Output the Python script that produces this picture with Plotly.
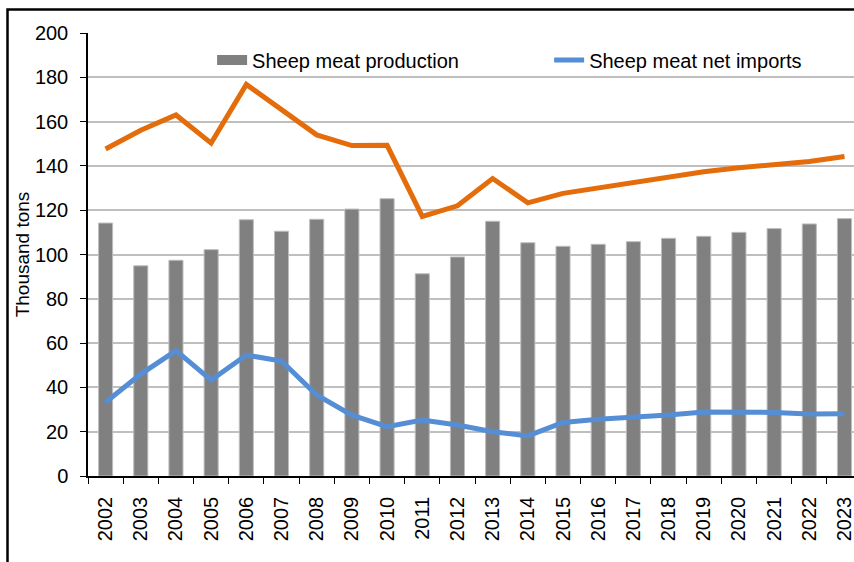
import plotly.graph_objects as go

years = [str(y) for y in range(2002, 2024)]
production = [114.2, 94.9, 97.4, 102.2, 115.7, 110.5, 115.9, 120.5, 125.2, 91.3, 98.9,
              115.0, 105.3, 103.7, 104.6, 105.8, 107.3, 108.2, 110.0, 111.7, 113.8, 116.2]
consumption = [147.6, 156.1, 163.0, 150.3, 176.8, 165.4, 154.0, 149.2, 149.3, 117.2, 122.0,
               134.3, 123.3, 127.6, 130.0, 132.3, 134.7, 137.4, 139.2, 140.7, 142.0, 144.2]
net_imports = [33.3, 46.0, 56.6, 43.3, 54.6, 51.9, 36.6, 27.5, 22.3, 25.3, 23.0,
               20.0, 18.1, 24.2, 25.6, 26.5, 27.5, 28.9, 29.0, 28.7, 28.0, 28.1]

FONT = "Liberation Sans, Arial, sans-serif"
GRAY = "#808080"
ORANGE = "#E46C0A"
BLUE = "#558ED5"

fig = go.Figure()
fig.add_trace(go.Bar(
    x=years, y=production, name="Sheep meat production", width=0.4,
    marker=dict(color=GRAY, line=dict(color="#BDBDBD", width=1)),
    showlegend=False,
))
# legend stand-in so the swatch is a wide bar like the original
fig.add_trace(go.Scatter(
    x=[None], y=[None], mode="lines", name="Sheep meat production",
    line=dict(color=GRAY, width=10), legend="legend",
))
fig.add_trace(go.Scatter(
    x=years, y=consumption, mode="lines", name="Sheep meat consumption",
    line=dict(color=ORANGE, width=5), showlegend=False,
))
fig.add_trace(go.Scatter(
    x=years, y=net_imports, mode="lines", name="Sheep meat net imports",
    line=dict(color=BLUE, width=5), legend="legend2",
))

# outer chart frame
fig.add_shape(type="rect", xref="paper", yref="paper",
              x0=(7.5 - 88) / 766, x1=1.05, y0=-0.3, y1=(476 - 9.5) / 443,
              line=dict(color="black", width=2.5), layer="above")

legend_style = dict(orientation="h", y=0.939, xanchor="left", yanchor="middle",
                    bgcolor="rgba(0,0,0,0)", font=dict(size=20))

fig.update_layout(
    width=854, height=562,
    margin=dict(l=88, r=0, t=33, b=86),
    paper_bgcolor="white", plot_bgcolor="white",
    font=dict(family=FONT, size=20, color="black"),
    showlegend=True,
    legend=dict(x=0.162, **legend_style),
    legend2=dict(x=0.602, **legend_style),
    bargap=0.6,
)
fig.update_xaxes(
    type="category", range=[-0.5, 21.27], tickangle=-90, automargin=False,
    tickson="boundaries", ticks="outside", ticklen=6, tickcolor="black",
    showline=True, linecolor="black", linewidth=1.5, showgrid=False,
    ticklabelstandoff=11,
)
fig.update_yaxes(
    range=[0, 200], dtick=20, ticks="outside", ticklen=6, tickcolor="black",
    automargin=False,
    showline=True, linecolor="black", linewidth=1.5,
    showgrid=True, gridcolor="#BFBFBF", gridwidth=2, zeroline=False,
    title=dict(text="Thousand tons", font=dict(size=19), standoff=0),
    ticklabelstandoff=8,
)

fig.write_html("out.html", config={"displayModeBar": False},
               post_script="document.body.style.margin = '0';")
